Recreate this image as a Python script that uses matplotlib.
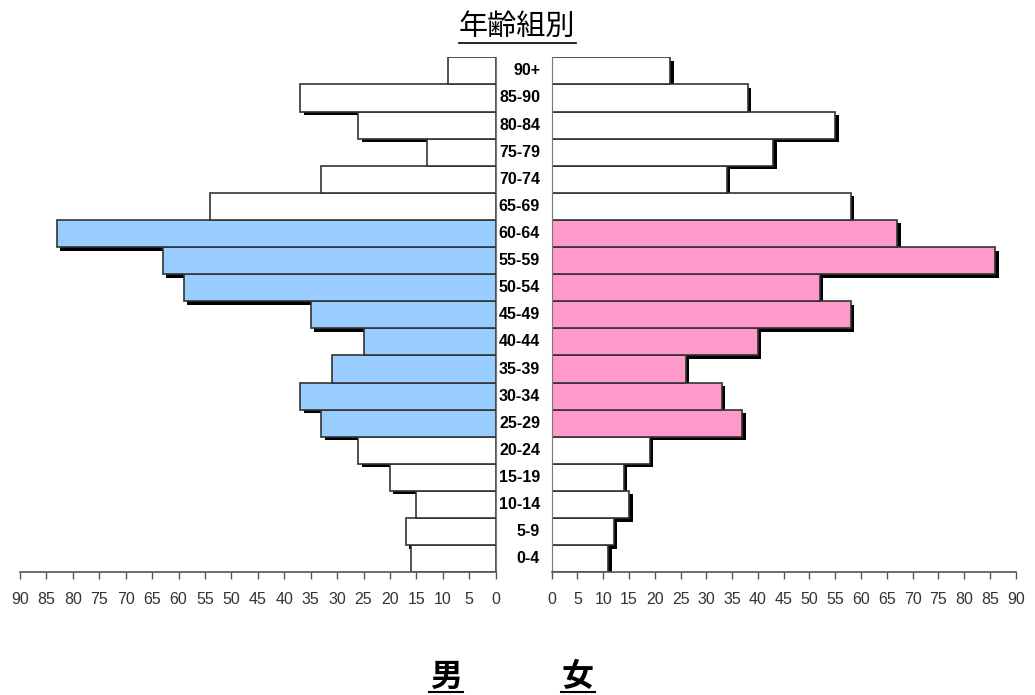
import matplotlib
matplotlib.use("Agg")
import matplotlib.pyplot as plt
import matplotlib.transforms as mtransforms
from matplotlib.lines import Line2D

# donnees
ages = ["0-4", "5-9", "10-14", "15-19", "20-24", "25-29", "30-34", "35-39",
        "40-44", "45-49", "50-54", "55-59", "60-64", "65-69", "70-74",
        "75-79", "80-84", "85-90", "90+"]
male = [16, 17, 15, 20, 26, 33, 37, 31, 25, 35, 59, 63, 83, 54, 33, 13, 26, 37, 9]
female = [11, 12, 15, 14, 19, 37, 33, 26, 40, 58, 52, 86, 67, 58, 34, 43, 55, 38, 23]
highlight = ["25-29", "30-34", "35-39", "40-44", "45-49", "50-54", "55-59", "60-64"]
xticks = list(range(0, 91, 5))

narrow = ["Liberation Sans Narrow", "Liberation Sans", "DejaVu Sans"]
cjk = ["Noto Sans CJK JP", "DejaVu Sans"]

fig = plt.figure(figsize=(10.35, 6.95), dpi=100)
W, H = 1035.0, 695.0

def frac(x0, x1, ytop, ybot):
    return [x0 / W, 1 - ybot / H, (x1 - x0) / W, (ybot - ytop) / H]

ax_l = fig.add_axes(frac(20, 495.7, 57.3, 572.3))
ax_r = fig.add_axes(frac(551.7, 1015.7, 57.3, 572.3))

ypos = list(range(len(ages)))
edge = "#333333"

for ax, vals, col in [(ax_l, male, "#99CCFF"), (ax_r, female, "#FF99CC")]:
    colors = [col if a in highlight else "white" for a in ages]
    sh = mtransforms.offset_copy(ax.transData, fig=fig, x=3.5, y=-3.5, units="dots")
    ax.barh(ypos, vals, height=1.0, color="black", transform=sh, zorder=1, linewidth=0)
    ax.barh(ypos, vals, height=1.0, color=colors, edgecolor=edge, linewidth=1.2, zorder=2)
    ax.set_ylim(-0.5, len(ages) - 0.5)
    ax.set_yticks([])
    ax.set_xticks(xticks)
    ax.set_xticklabels([str(t) for t in xticks], family=narrow, fontsize=11.5, color="#333333")
    ax.tick_params(axis="x", direction="out", length=5, width=1, color="#555555", pad=9)
    ax.spines["top"].set_visible(False)
    ax.spines["bottom"].set_color("#555555")
    ax.spines["bottom"].set_linewidth(1.2)

ax_l.set_xlim(90, 0)
ax_r.set_xlim(0, 90)
ax_l.spines["left"].set_visible(False)
ax_l.spines["right"].set_color("#777777")
ax_r.spines["right"].set_visible(False)
ax_r.spines["left"].set_color("#777777")

# etiquettes des classes d'age
tr = mtransforms.blended_transform_factory(fig.transFigure, ax_r.transData)
for i, a in enumerate(ages):
    ax_r.text(540 / W, i, a, transform=tr, ha="right", va="center",
              family=narrow, fontweight="bold", fontsize=11.5, clip_on=False)

# titre et libelles, soulignes
fig.text(517 / W, 1 - 27 / H, "年齢組別", ha="center", va="center",
         family=cjk, fontsize=21)
fig.add_artist(Line2D([459 / W, 576 / W], [1 - 43 / H, 1 - 43 / H], color="black", lw=1.2))

for x, lab in [(446, "男"), (578, "女")]:
    fig.text(x / W, 1 - 677 / H, lab, ha="center", va="center", family=cjk,
             fontsize=23, fontweight="bold")
    fig.add_artist(Line2D([(x - 17) / W, (x + 17) / W], [1 - 692 / H, 1 - 692 / H],
                          color="black", lw=1.5))

fig.savefig("out.png", dpi=100)
